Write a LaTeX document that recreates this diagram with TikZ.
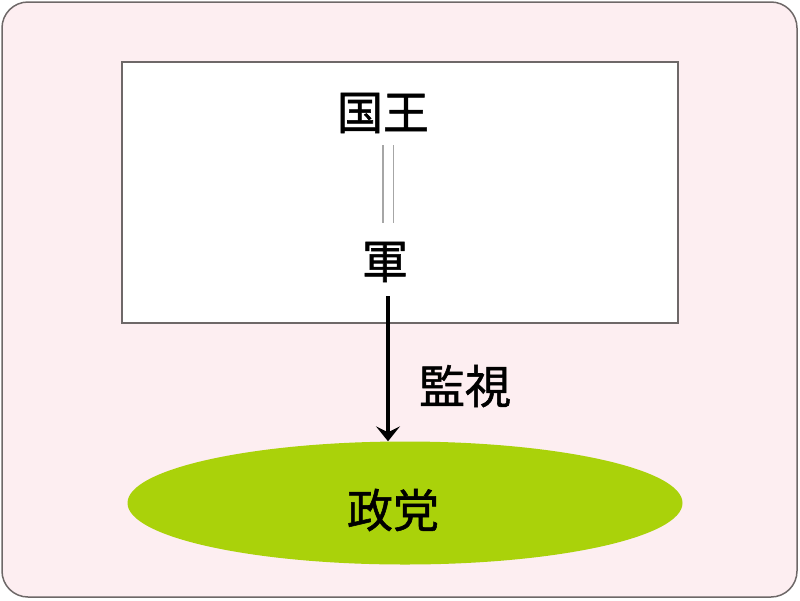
\documentclass[tikz,border=0pt]{standalone}
\usepackage{fontspec}
\newfontfamily\cjk[FakeBold=1.2]{Noto Sans CJK JP}
\usetikzlibrary{shapes.geometric,arrows.meta}
\definecolor{bgpink}{HTML}{FDEEF1}
\definecolor{edgegray}{HTML}{6E6868}
\definecolor{partygreen}{HTML}{AAD20A}
\tikzset{
  lbl/.style={font=\cjk\fontsize{46}{46}\selectfont, inner sep=0pt, text=black},
  panel/.style={draw=edgegray, line width=1.5pt},
}
\begin{document}
\begin{tikzpicture}[x=1pt,y=-1pt]
\useasboundingbox (0,0) rectangle (800,600);
\draw[panel, fill=bgpink, rounded corners=26pt] (2,2) rectangle (797,597);
\draw[panel, fill=white] (122,62) rectangle (678,323);
\node[lbl] (king) at (383,113) {国王};
\node[lbl] (army) at (385,262) {軍};
\node[ellipse, fill=partygreen, minimum width=555pt, minimum height=123pt, inner sep=0pt] (party) at (405,503) {};
\node[lbl] at (393,510) (partytext) {政党};
\node[lbl] (watch) at (465,386) {監視};
\coordinate (d1) at (388,145);
\coordinate (d2) at (388,223);
\draw[gray!70, line width=1.2pt, double distance=9pt] (d1) -- (d2);
\coordinate (a1) at (388,296);
\draw[line width=4pt, -{Stealth[length=15pt,width=24pt,inset=6pt]}] (a1) -- (a1 |- party.north);
\end{tikzpicture}
\end{document}
